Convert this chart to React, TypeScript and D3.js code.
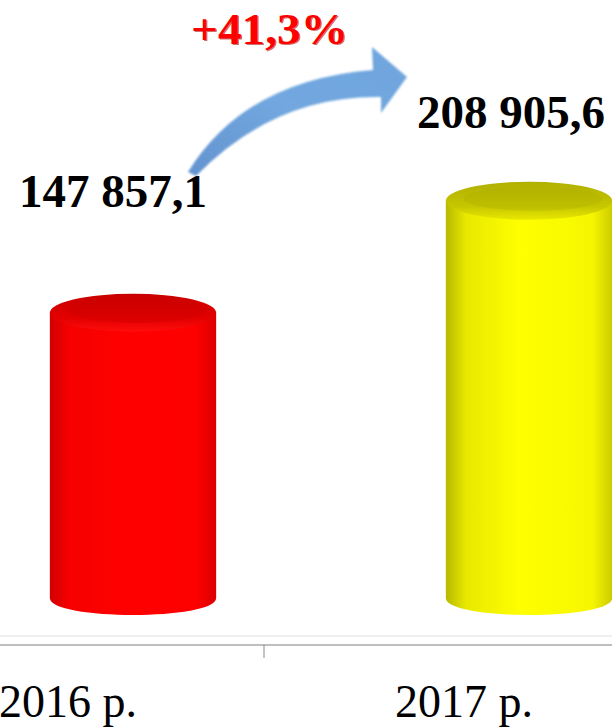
import React from "react";
import * as d3 from "d3";

const categories = ["2016 p.", "2017 p."];
const values = [147857.1, 208905.6];
const valueLabels = ["147 857,1", "208 905,6"];
const growthLabel = "+41,3%";

const W = 612;
const H = 727;
const FONT = "'Liberation Serif', 'Times New Roman', Times, serif";

const palettes = [
  { id: "red", body: ["#d20000", "#f60000", "#ff0000", "#fd0000", "#dc0000"], top: ["#c80000", "#e40000", "#ff0d0d"] },
  { id: "yel", body: ["#b8b800", "#e8e800", "#ffff00", "#f6f600", "#cccc00"], top: ["#b0b000", "#c6c600", "#e8e800"] },
];

export default function App() {
  const x = d3.scaleBand<string>().domain(categories).range([-132, 660]).padding(0);
  const y = d3.scaleLinear().domain([0, 220000]).range([584, 180.4]);
  const floorY = 598;
  const depthShift = 67;
  const cylW = 0.42 * x.bandwidth();
  const ry = 19;
  const axisY = 645;
  const labelOffsets = [106, 73];
  const labelCx = [113, 511];

  const tickX = x(categories[1]) as number;

  // growth arrow geometry (annotation), built with d3.path
  const ap = d3.path();
  ap.moveTo(188, 172);
  ap.quadraticCurveTo(245, 80, 373, 70);
  ap.lineTo(372, 47);
  ap.lineTo(407, 77);
  ap.lineTo(381, 113);
  ap.lineTo(381, 97);
  ap.quadraticCurveTo(275, 95, 196, 176);
  ap.closePath();

  return (
    <svg
      width={W}
      height={H}
      style={{ position: "absolute", left: 0, top: 0, background: "#fff" }}
    >
      <defs>
        {palettes.map((p) => (
          <React.Fragment key={p.id}>
            <linearGradient id={`body-${p.id}`} x1="0" x2="1" y1="0" y2="0">
              <stop offset="0%" stopColor={p.body[0]} />
              <stop offset="12%" stopColor={p.body[1]} />
              <stop offset="45%" stopColor={p.body[2]} />
              <stop offset="88%" stopColor={p.body[3]} />
              <stop offset="100%" stopColor={p.body[4]} />
            </linearGradient>
            <linearGradient id={`top-${p.id}`} x1="0" x2="0" y1="0" y2="1">
              <stop offset="0%" stopColor={p.top[0]} />
              <stop offset="65%" stopColor={p.top[1]} />
              <stop offset="100%" stopColor={p.top[2]} />
            </linearGradient>
          </React.Fragment>
        ))}
        <linearGradient id="arrowGrad" x1="0" x2="1" y1="1" y2="0">
          <stop offset="0%" stopColor="#6393cf" />
          <stop offset="50%" stopColor="#72a8df" />
          <stop offset="100%" stopColor="#6ea5dd" />
        </linearGradient>
        <filter id="soft" x="-10%" y="-10%" width="120%" height="120%">
          <feGaussianBlur stdDeviation="1" />
        </filter>
      </defs>

      {/* floor / axis */}
      <line x1={0} x2={W} y1={axisY - 9} y2={axisY - 9} stroke="#efefef" strokeWidth={2} />
      <line x1={0} x2={W} y1={axisY} y2={axisY} stroke="#a8a8a8" strokeWidth={1.5} />
      <line x1={tickX} x2={tickX} y1={axisY} y2={axisY + 13} stroke="#8a8a8a" strokeWidth={1} />

      {/* cylinders */}
      {categories.map((c, i) => {
        const cx = (x(c) as number) + x.bandwidth() / 2 + depthShift;
        const rx = cylW / 2;
        const yt = y(values[i]);
        const left = cx - rx;
        const right = cx + rx;
        const p = palettes[i];
        const body = d3.path();
        body.moveTo(left, yt);
        body.lineTo(left, floorY);
        body.bezierCurveTo(left, floorY + 17 * 1.33, right, floorY + 17 * 1.33, right, floorY);
        body.lineTo(right, yt);
        body.closePath();
        return (
          <g key={c}>
            <path d={body.toString()} fill={`url(#body-${p.id})`} />
            <ellipse cx={cx} cy={yt} rx={rx} ry={ry} fill={`url(#top-${p.id})`} />
            <ellipse cx={cx + 4} cy={yt - 2} rx={rx - 14} ry={ry - 7} fill={p.top[0]} opacity={0.35} />
          </g>
        );
      })}

      {/* value labels */}
      {categories.map((c, i) => (
        <text
          key={`v-${c}`}
          x={labelCx[i]}
          y={y(values[i]) - labelOffsets[i]}
          textAnchor="middle"
          fontFamily={FONT}
          fontWeight="bold"
          fontSize={47}
          fill="#000"
        >
          {valueLabels[i]}
        </text>
      ))}

      {/* growth arrow */}
      <path d={ap.toString()} fill="url(#arrowGrad)" filter="url(#soft)" />

      {/* growth label */}
      <text
        x={191}
        y={44}
        fontFamily={FONT}
        fontWeight="bold"
        fontSize={44}
        fill="#a00000"
        textLength={157}
        lengthAdjust="spacingAndGlyphs"
        transform="translate(1.2,1.2)"
        opacity={0.55}
      >
        {growthLabel}
      </text>
      <text
        x={191}
        y={44}
        fontFamily={FONT}
        fontWeight="bold"
        fontSize={44}
        fill="#ff0000"
        textLength={157}
        lengthAdjust="spacingAndGlyphs"
      >
        {growthLabel}
      </text>

      {/* category labels */}
      {categories.map((c) => (
        <text
          key={`c-${c}`}
          x={(x(c) as number) + x.bandwidth() / 2 + 2}
          y={717}
          textAnchor="middle"
          fontFamily={FONT}
          fontSize={46}
          fill="#000"
        >
          {c}
        </text>
      ))}
    </svg>
  );
}
